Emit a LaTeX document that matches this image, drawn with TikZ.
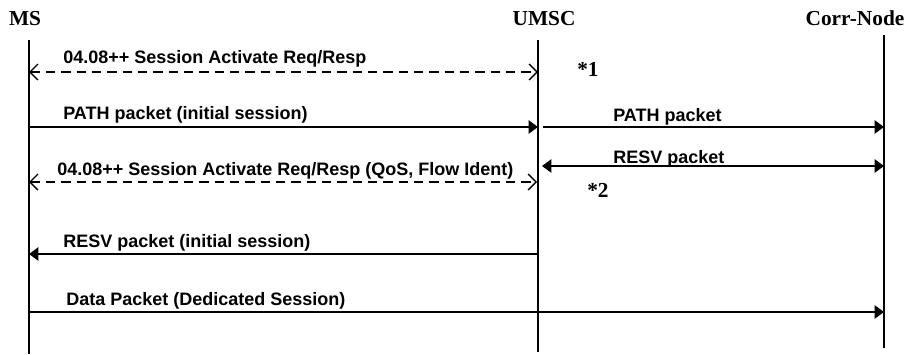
\documentclass[tikz,border=0pt]{standalone}
\usepackage{fontspec}
\setmainfont{Liberation Serif}
\setsansfont{Liberation Sans}
\usetikzlibrary{arrows.meta}

\begin{document}
\begin{tikzpicture}[
  x=0.75pt,y=-0.75pt,
  actor/.style={font=\fontsize{16}{18}\selectfont\bfseries,anchor=base,inner sep=0pt},
  note/.style={font=\fontsize{16}{18}\selectfont\bfseries,anchor=base west,inner sep=0pt},
  lbl/.style={font=\sffamily\fontsize{13.5}{16}\selectfont\bfseries,anchor=base west,inner sep=0pt},
  life/.style={line width=1pt},
  msg/.style={line width=1pt,-{Triangle[length=7pt,width=10pt]}},
  both/.style={line width=1pt,{Triangle[length=7pt,width=10pt]}-{Triangle[length=7pt,width=10pt]}},
  req/.style={line width=1pt,dash pattern=on 7pt off 4.5pt,
    {Straight Barb[length=6pt,width=12pt]}-{Straight Barb[length=6pt,width=12pt]}}
]
  \useasboundingbox (0,0) rectangle (911,354);

  % actors and lifelines
  \node[actor] (ms) at (25,25) {MS};
  \node[actor] (umsc) at (544,25) {UMSC};
  \node[actor] (corr) at (855,25) {Corr-Node};
  \coordinate (ms-top) at (29,40);
  \coordinate (ms-bot) at (29,354);
  \coordinate (umsc-top) at (538,40);
  \coordinate (umsc-bot) at (538,352);
  \coordinate (corr-top) at (884,35);
  \coordinate (corr-bot) at (884,348);
  \draw[life] (ms-top) -- (ms-bot);
  \draw[life] (umsc-top) -- (umsc-bot);
  \draw[life] (corr-top) -- (corr-bot);

  % message end points
  \coordinate (ms-1) at (29,72);    \coordinate (umsc-1) at (538,72);
  \coordinate (ms-2) at (29,127);   \coordinate (umsc-2) at (538,127);
  \coordinate (umsc-3) at (543,127); \coordinate (corr-3) at (884,127);
  \coordinate (umsc-4) at (542,166); \coordinate (corr-4) at (884,166);
  \coordinate (ms-5) at (29,182);   \coordinate (umsc-5) at (537,182);
  \coordinate (umsc-6) at (538,254); \coordinate (ms-6) at (29,254);
  \coordinate (ms-7) at (29,312);   \coordinate (corr-7) at (884,312);

  % messages
  \draw[req] (ms-1) -- (umsc-1);
  \node[lbl] (l1) at (63,63) {04.08++ Session Activate Req/Resp};
  \node[note] (n1) at (577,76) {*1};

  \draw[msg] (ms-2) -- (umsc-2);
  \node[lbl] (l2) at (63,119) {PATH packet (initial session)};
  \draw[msg] (umsc-3) -- (corr-3);
  \node[lbl] (l3) at (613,121) {PATH packet};

  \draw[both] (umsc-4) -- (corr-4);
  \node[lbl] (l4) at (613,163) {RESV packet};

  \draw[req] (ms-5) -- (umsc-5);
  \node[lbl] (l5) at (57,175) {04.08++ Session Activate Req/Resp (QoS, Flow Ident)};
  \node[note] (n2) at (587,197) {*2};

  \draw[msg] (umsc-6) -- (ms-6);
  \node[lbl] (l6) at (63,247) {RESV packet (initial session)};

  \draw[msg] (ms-7) -- (corr-7);
  \node[lbl] (l7) at (66,305) {Data Packet (Dedicated Session)};
\end{tikzpicture}
\end{document}
